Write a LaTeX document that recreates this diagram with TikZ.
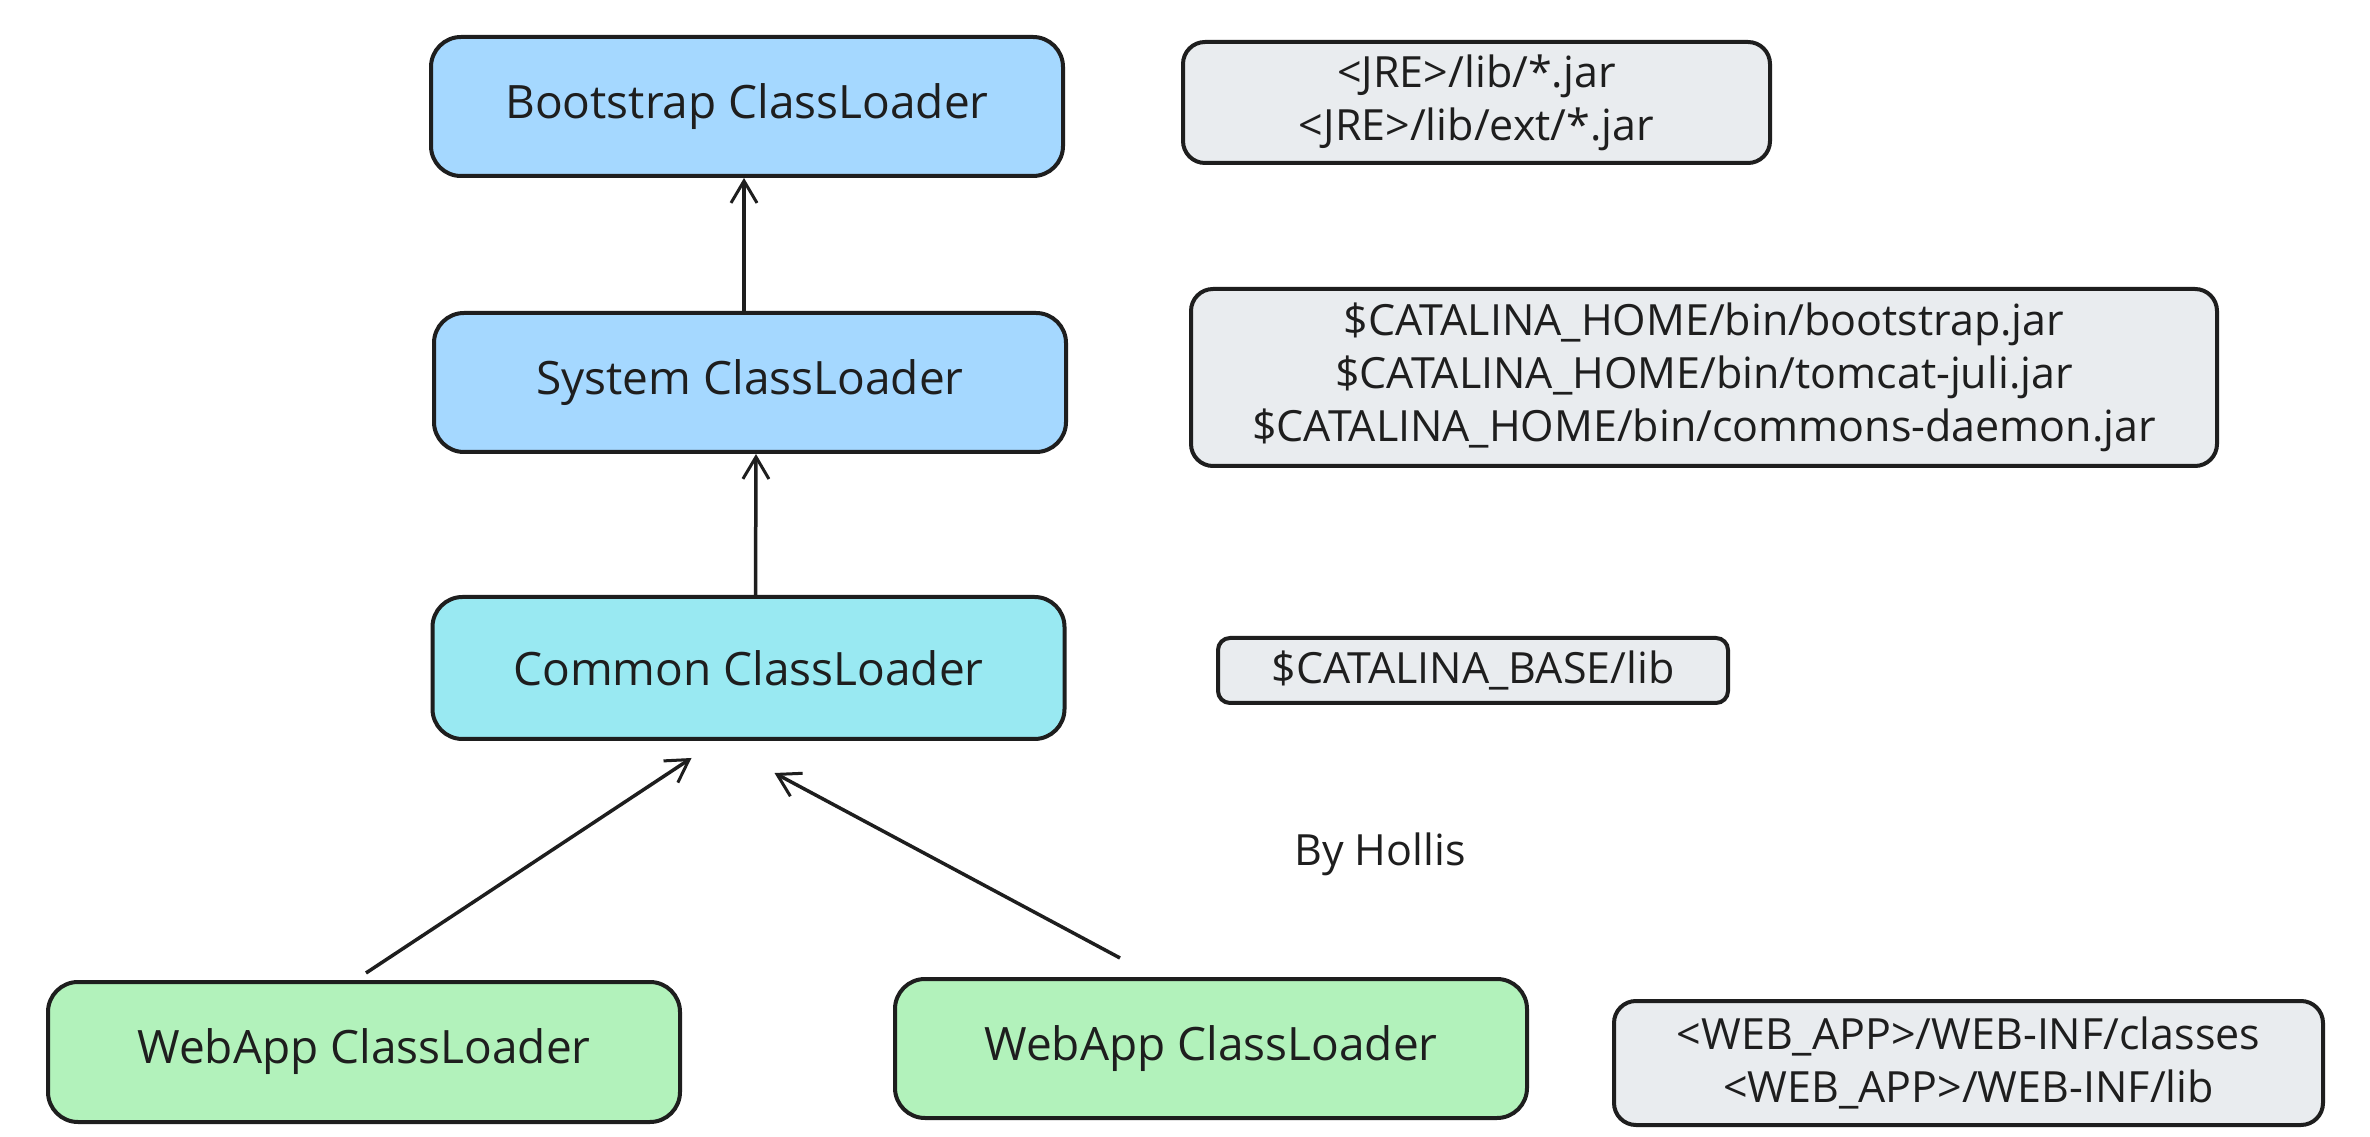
\documentclass[tikz,border=0pt]{standalone}
\usepackage{fontspec}
\setmainfont{Open Sans}
\usetikzlibrary{calc,arrows.meta}
\definecolor{strokec}{HTML}{1E1E1E}
\definecolor{bluef}{HTML}{A5D8FF}
\definecolor{cyanf}{HTML}{99E9F2}
\definecolor{greenf}{HTML}{B2F2BB}
\definecolor{grayf}{HTML}{E9ECEF}
\tikzset{
  loader/.style={draw=strokec, line width=4pt, rounded corners=30pt, minimum width=632pt, minimum height=139pt, inner sep=0pt, font=\fontsize{46}{53}\selectfont, text=strokec},
  notebox/.style={draw=strokec, line width=4pt, rounded corners=22pt, fill=grayf, inner sep=0pt, align=center, font=\fontsize{43}{53}\selectfont, text=strokec},
  conn/.style={draw=strokec, line width=3.5pt, -{Straight Barb[length=22pt,width=26pt,line width=3pt]}},
}
\begin{document}
\begin{tikzpicture}[x=1pt,y=1pt]
\useasboundingbox[fill=white] (0,0) rectangle (2370,1136);
\node[loader, fill=bluef] (boot) at (747,1029.5) {Bootstrap ClassLoader};
\node[loader, fill=bluef] (sys) at (750,753.5) {System ClassLoader};
\node[loader, fill=cyanf, minimum height=142pt] (common) at (748.5,468) {Common ClassLoader};
\node[loader, fill=greenf, minimum height=140pt] (wa1) at (364,84) {WebApp ClassLoader};
\node[loader, fill=greenf] (wa2) at (1211,87.5) {WebApp ClassLoader};
\node[notebox, minimum width=587pt, minimum height=121pt] (jre) at (1476.5,1033.5) {<JRE>/lib/*.jar\\<JRE>/lib/ext/*.jar};
\node[notebox, minimum width=1026pt, minimum height=177pt] (home) at (1704,758.5) {\$CATALINA\_HOME/bin/bootstrap.jar\\\$CATALINA\_HOME/bin/tomcat-juli.jar\\\$CATALINA\_HOME/bin/commons-daemon.jar};
\node[notebox, minimum width=510pt, minimum height=65pt, rounded corners=12pt] (base) at (1473,465.5) {\$CATALINA\_BASE/lib};
\node[notebox, minimum width=709pt, minimum height=124pt] (web) at (1968.5,73) {<WEB\_APP>/WEB-INF/classes\\<WEB\_APP>/WEB-INF/lib};
\node[font=\fontsize{43}{50}\selectfont, text=strokec] (by) at (1380,282) {By Hollis};
\coordinate (e1) at ($(common.south)+(-57,-17)$);
\coordinate (e2) at ($(common.south)+(26,-32)$);
\coordinate (s2) at ($(wa2.north)+(-91,19)$);
\draw[conn] ($(sys.north)+(-6,0)$) -- ($(boot.south)+(-3,0)$);
\draw[conn] ($(common.north)+(7,0)$) -- ($(sys.south)+(6,0)$);
\draw[conn] ($(wa1.north)+(2,7)$) -- (e1);
\draw[conn] (s2) -- (e2);
\end{tikzpicture}
\end{document}
